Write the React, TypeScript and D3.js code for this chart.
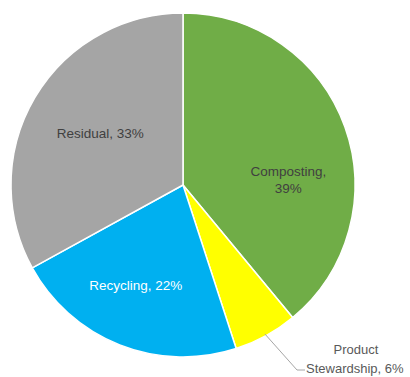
import React from "react";
import * as d3 from "d3";

const categories = ["Composting", "Product Stewardship", "Recycling", "Residual"];
const values = [39, 6, 22, 33];
const colors = ["#70AD47", "#FFFF00", "#00B0F0", "#A5A5A5"];

const W = 410;
const H = 377;
const cx = 183;
const cy = 185;
const R = 172;
const FONT = "'Liberation Sans', Arial, sans-serif";

export default function App() {
  const pie = d3.pie<number>().sort(null).value((d) => d);
  const arcs = pie(values);
  const arcGen = d3.arc<d3.PieArcDatum<number>>().innerRadius(0).outerRadius(R);

  const psArc = arcs[1];
  const psMid = (psArc.startAngle + psArc.endAngle) / 2;
  const lx0 = Math.sin(psMid) * (R - 2);
  const ly0 = -Math.cos(psMid) * (R - 2);

  const [rx, ry] = [100.3, 138.3];
  const [kx, ky] = [288.3, 176];
  const [yx, yy] = [135.8, 290];

  return (
    <svg
      width={W}
      height={H}
      style={{ position: "absolute", left: 0, top: 0, background: "#fff" }}
      fontFamily={FONT}
    >
      <g transform={`translate(${cx},${cy})`}>
        {arcs.map((a, i) => (
          <path
            key={categories[i]}
            d={arcGen(a) || ""}
            fill={colors[i]}
            stroke="#ffffff"
            strokeWidth={1.5}
            strokeLinejoin="round"
          />
        ))}
        <polyline
          points={`${lx0},${ly0} ${297 - cx},${370 - cy} ${305 - cx},${370 - cy}`}
          fill="none"
          stroke="#A6A6A6"
          strokeWidth={1}
        />
      </g>
      <text x={rx} y={ry} textAnchor="middle" fontSize={13.5} fill="#404040">
        {categories[3]}, {values[3]}%
      </text>
      <text x={kx} y={ky} textAnchor="middle" fontSize={13.5} fill="#404040">
        {categories[0]},
      </text>
      <text x={kx} y={ky + 17} textAnchor="middle" fontSize={13.5} fill="#404040">
        {values[0]}%
      </text>
      <text x={yx} y={yy} textAnchor="middle" fontSize={13.5} fill="#ffffff">
        {categories[2]}, {values[2]}%
      </text>
      <text x={356} y={354} textAnchor="middle" fontSize={13} fill="#595959">
        Product
      </text>
      <text x={306} y={373} textAnchor="start" fontSize={13} fill="#595959">
        Stewardship, {values[1]}%
      </text>
    </svg>
  );
}
